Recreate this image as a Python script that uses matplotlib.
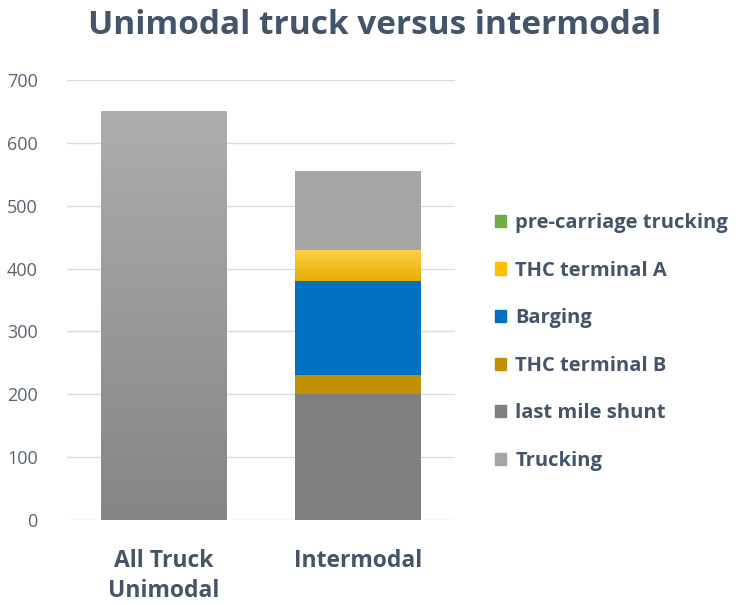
import matplotlib.pyplot as plt
import matplotlib.patches as mpatches
import numpy as np

plt.rcParams['font.family'] = ['Open Sans', 'DejaVu Sans']

categories = ["All Truck\nUnimodal", "Intermodal"]
series_names = ["Trucking", "last mile shunt", "THC terminal B", "Barging",
                "THC terminal A", "pre-carriage trucking"]
trucking = [650, 0]
last_mile = [0, 200]
thc_b = [0, 30]
barging = [0, 150]
thc_a = [0, 50]
pre_carriage = [0, 125]

TXT = "#44546A"
TICK = "#5B6372"

fig = plt.figure(figsize=(7.38, 6.05), dpi=100)
ax = fig.add_axes([67 / 738, 85 / 605, 388 / 738, 440 / 605])

x = np.arange(len(categories))
width = 0.645

# (values, flat colour or gradient (top, bottom), legend colour)
layers = [
    (trucking, ("#ADADAD", "#858585"), "#A5A5A5"),
    (last_mile, "#7F7F7F", "#7F7F7F"),
    (thc_b, "#BF9000", "#BF9000"),
    (barging, "#0070C0", "#0070C0"),
    (thc_a, ("#FFD24D", "#E6AD00"), "#FFC000"),
    (pre_carriage, "#A5A5A5", "#70AD47"),
]

bottom = np.zeros(len(categories))
for vals, col, _ in layers:
    vals = np.array(vals, dtype=float)
    if isinstance(col, tuple):
        bars = ax.bar(x, vals, width, bottom=bottom, color="none", edgecolor="none")
        top_c = np.array(plt.matplotlib.colors.to_rgb(col[0]))
        bot_c = np.array(plt.matplotlib.colors.to_rgb(col[1]))
        t = np.linspace(0, 1, 256)[:, None]
        grad = (top_c * (1 - t) + bot_c * t)[:, None, :]
        for b in bars:
            if b.get_height() <= 0:
                continue
            im = ax.imshow(grad, aspect="auto", zorder=2,
                           extent=[b.get_x(), b.get_x() + b.get_width(),
                                   b.get_y(), b.get_y() + b.get_height()])
            im.set_clip_path(b)
    else:
        ax.bar(x, vals, width, bottom=bottom, color=col, edgecolor="none", zorder=2)
    bottom += vals

ax.set_xlim(-0.5, 1.5)
ax.set_ylim(0, 700)
ax.set_yticks(range(0, 701, 100))
ax.yaxis.grid(True, color="#D9DDE3", linewidth=1)
ax.set_axisbelow(True)
for s in ax.spines.values():
    s.set_visible(False)
ax.tick_params(axis="y", length=0, pad=21, labelsize=13, labelcolor=TICK)
ax.tick_params(axis="x", length=0, pad=21)
ax.set_xticks(x)
ax.set_xticklabels(categories, fontsize=16.5, fontweight="bold", color=TXT,
                   linespacing=1.3, va="top")

fig.text(375 / 738, 1 - 26 / 605, "Unimodal truck versus intermodal",
         ha="center", va="center", fontsize=24, fontweight="bold", color=TXT)

handles = [mpatches.Patch(color=c) for _, _, c in layers][::-1]
labels = series_names[::-1]
fig.legend(handles, labels, loc="center left", bbox_to_anchor=(477 / 738, 1 - 342 / 605),
           frameon=False, labelcolor=TXT, prop={"weight": "bold", "size": 14.5},
           handlelength=0.55, handleheight=0.55, handletextpad=0.45, labelspacing=1.37)

fig.savefig("out.png", dpi=100)
